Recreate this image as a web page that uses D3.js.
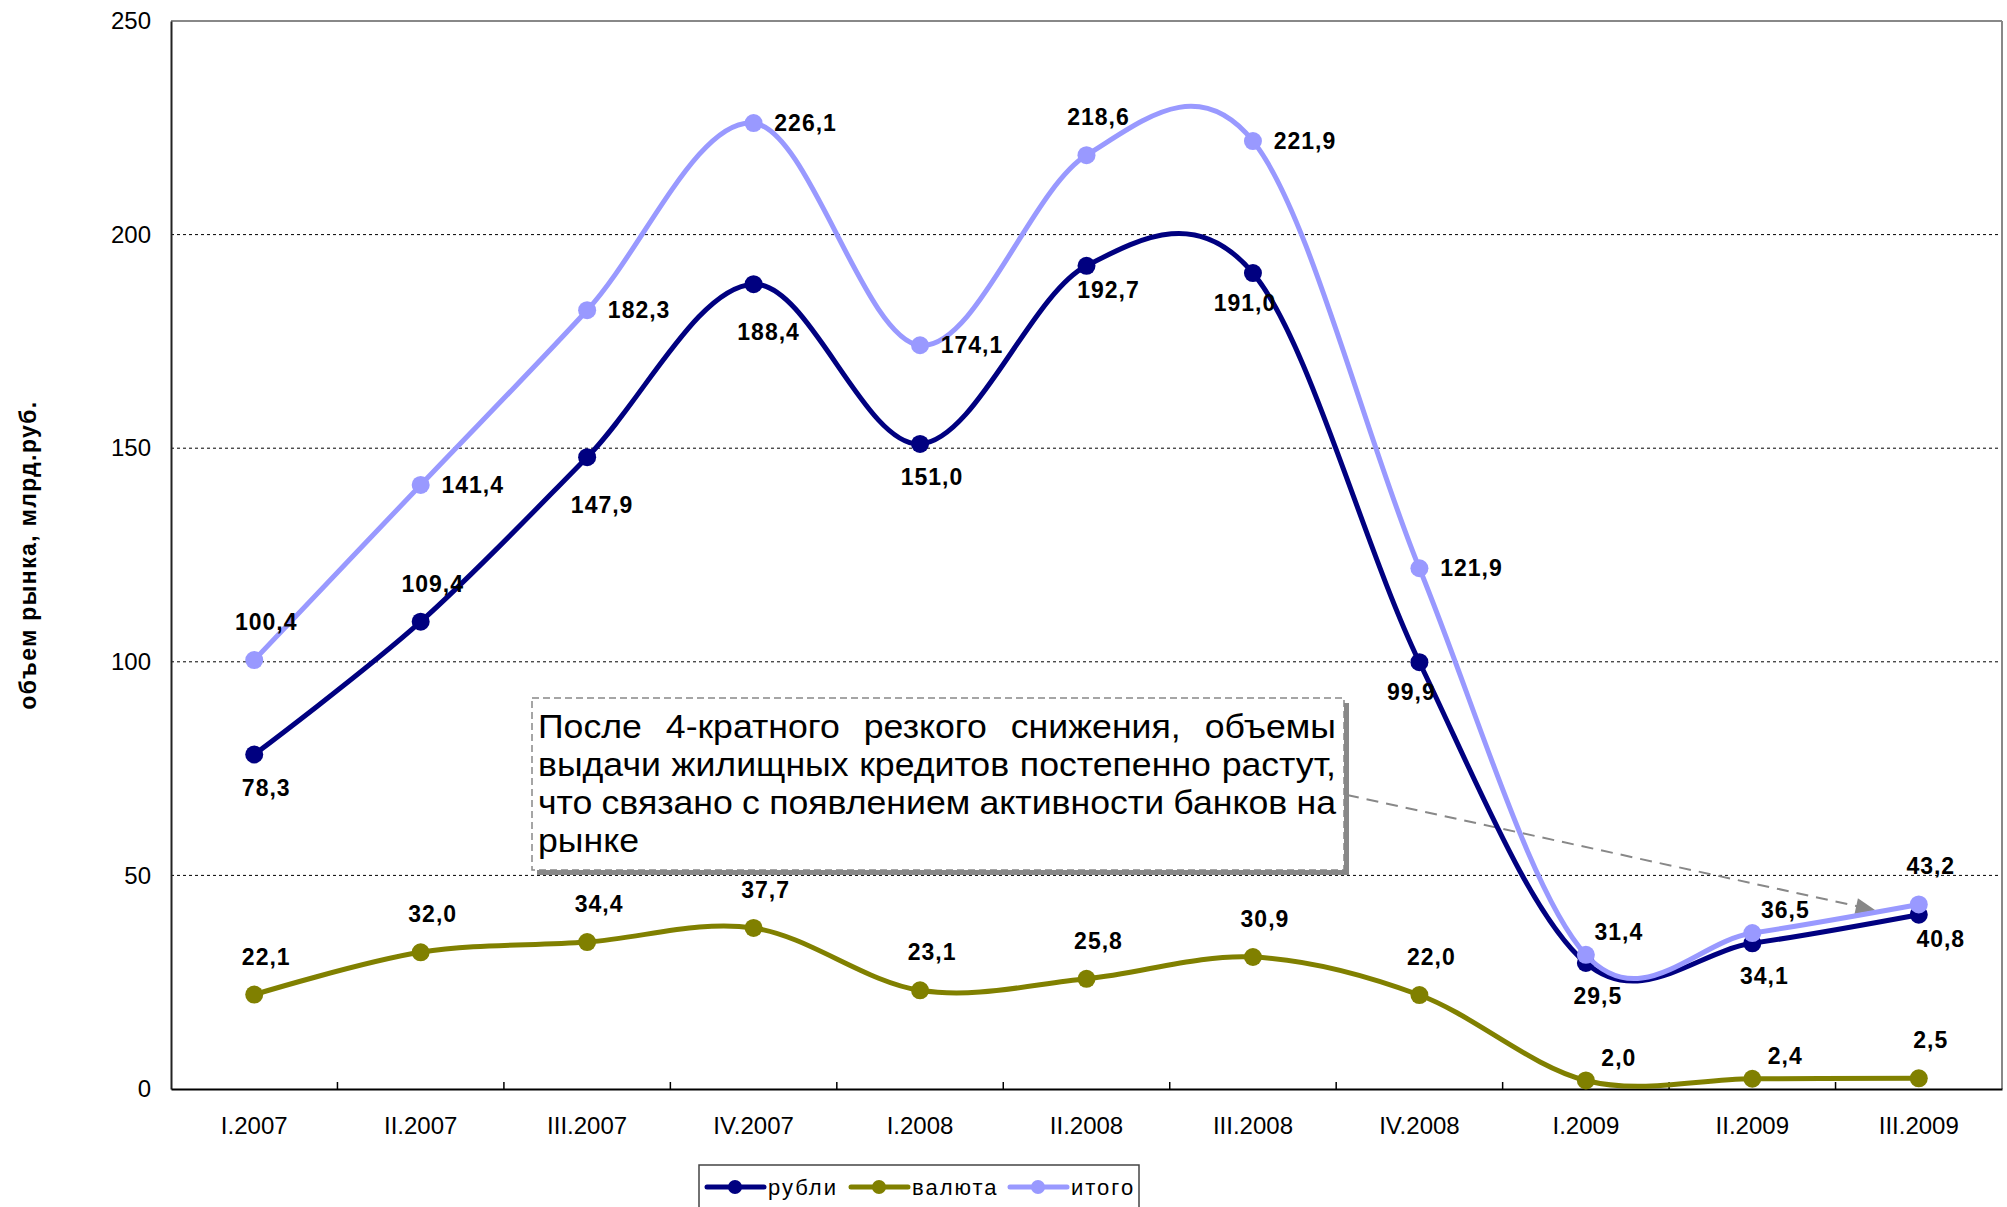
<!DOCTYPE html>
<html>
<head>
<meta charset="utf-8">
<script src="https://cdn.jsdelivr.net/npm/d3@7"></script>
<style>
body { margin: 0; background: #fff; }
text { font-family: "Liberation Sans", Arial, sans-serif; }
</style>
</head>
<body>
<div id="graph"></div>
<script>
// quarters
var categories = ['I.2007', 'II.2007', 'III.2007', 'IV.2007', 'I.2008', 'II.2008', 'III.2008', 'IV.2008', 'I.2009', 'II.2009', 'III.2009'];

// volumes, bln rub
var rubles   = [78.3, 109.4, 147.9, 188.4, 151.0, 192.7, 191.0, 99.9, 29.5, 34.1, 40.8];
var currency = [22.1, 32.0, 34.4, 37.7, 23.1, 25.8, 30.9, 22.0, 2.0, 2.4, 2.5];
var total    = [100.4, 141.4, 182.3, 226.1, 174.1, 218.6, 221.9, 121.9, 31.4, 36.5, 43.2];

// where each data label sits relative to its point (like excel label position)
var rublesLabelPos   = ['below', 'above', 'belowFar', 'belowFar', 'below', 'belowRight', 'belowLeft', 'belowLeft', 'below', 'below', 'belowRight'];
var currencyLabelPos = ['above', 'above', 'above', 'above', 'above', 'above', 'above', 'above', 'aboveRight', 'aboveRight', 'above'];
var totalLabelPos    = ['above', 'right', 'right', 'right', 'right', 'above', 'right', 'right', 'aboveRight', 'aboveRight', 'above'];

var yTicks = [0, 50, 100, 150, 200, 250];

var seriesNames = ['рубли', 'валюта', 'итого'];

var noteLines = [
  'После 4-кратного резкого снижения, объемы',
  'выдачи жилищных кредитов постепенно растут,',
  'что связано с появлением активности банков на',
  'рынке'
];

var svgWidth = 2007, svgHeight = 1207;
var margin = {top: 21, right: 5, bottom: 118, left: 171};
var width = svgWidth - margin.left - margin.right,
    height = svgHeight - margin.top - margin.bottom;

var svg = d3.select('#graph').append('svg')
  .attr('width', svgWidth).attr('height', svgHeight);

var g = svg.append('g').attr('transform', 'translate(' + margin.left + ',' + margin.top + ')');

var x = d3.scaleBand().domain(categories).range([0, width]);
var y = d3.scaleLinear().domain([0, 250]).range([height, 0]);
var cx = function(i) { return x(categories[i]) + x.bandwidth() / 2; };

var colors = {rubles: '#000080', currency: '#808000', total: '#9999ff'};

// grid
g.selectAll('.grid').data(yTicks.filter(function(d) { return d > 0 && d < 250; }))
  .enter().append('line')
  .attr('x1', 0).attr('x2', width)
  .attr('y1', function(d) { return y(d); }).attr('y2', function(d) { return y(d); })
  .attr('stroke', '#000').attr('stroke-width', 1).attr('stroke-dasharray', '3,3');

// frame top / right
g.append('line').attr('x1', 0).attr('x2', width).attr('y1', y(250)).attr('y2', y(250))
  .attr('stroke', '#888').attr('stroke-width', 2);
g.append('line').attr('x1', width).attr('x2', width).attr('y1', 0).attr('y2', height)
  .attr('stroke', '#888').attr('stroke-width', 2);

// y axis
var yAxis = g.append('g').call(d3.axisLeft(y).tickValues(yTicks).tickSize(0).tickPadding(20));
yAxis.select('.domain').attr('stroke', '#222').attr('stroke-width', 2);
yAxis.selectAll('text').attr('font-size', 24).attr('fill', '#000')
  .style('font-family', '"Liberation Sans", Arial, sans-serif');

// x axis
var xAxis = g.append('g').attr('transform', 'translate(0,' + height + ')')
  .call(d3.axisBottom(x).tickSize(0).tickPadding(28));
xAxis.select('.domain').attr('stroke', '#000').attr('stroke-width', 2);
xAxis.selectAll('text').attr('font-size', 24).attr('fill', '#000')
  .style('font-family', '"Liberation Sans", Arial, sans-serif');
g.selectAll('.xtick').data(categories.slice(1))
  .enter().append('line')
  .attr('x1', function(d) { return x(d); }).attr('x2', function(d) { return x(d); })
  .attr('y1', height).attr('y2', height - 7)
  .attr('stroke', '#000').attr('stroke-width', 1.5);

// y title
svg.append('text')
  .attr('transform', 'translate(36,' + (margin.top + height / 2) + ') rotate(-90)')
  .attr('text-anchor', 'middle')
  .attr('font-size', 23).attr('font-weight', 'bold')
  .attr('letter-spacing', 1.4)
  .text('объем рынка, млрд.руб.');

// annotation box
var note = {x: 361, y: 677, w: 812, h: 172};
g.append('rect').attr('x', note.x + 5).attr('y', note.y + 5).attr('width', note.w).attr('height', note.h)
  .attr('fill', '#888');
g.append('rect').attr('x', note.x).attr('y', note.y).attr('width', note.w).attr('height', note.h)
  .attr('fill', '#fff').attr('stroke', '#888').attr('stroke-width', 1.5).attr('stroke-dasharray', '7,4');

var textW = note.w - 14;
var noteG = g.append('g');
var measured = noteLines.map(function(line, li) {
  var words = line.split(' ');
  var lg = noteG.append('g');
  var widths = words.map(function(w) {
    var t = lg.append('text').attr('font-size', 33).text(w);
    return t.node().getComputedTextLength();
  });
  return {g: lg, words: words, widths: widths};
});
var spaceW = 8.5;
var natural = d3.max(measured.slice(0, 3), function(m) {
  return d3.sum(m.widths) + spaceW * (m.words.length - 1);
});
var k = textW / natural;
measured.forEach(function(m, li) {
  var last = li === measured.length - 1;
  var gap = last ? spaceW : (textW / k - d3.sum(m.widths)) / (m.words.length - 1);
  var pos = 0;
  m.g.attr('transform', 'translate(' + (note.x + 6) + ',' + (note.y + 40 + li * 38) + ') scale(' + k + ',1)');
  m.g.selectAll('text').each(function(d, i) {
    d3.select(this).attr('x', pos);
    pos += m.widths[i] + gap;
  });
});

// arrow from note to last point
var last = categories.length - 1;
var ax0 = note.x + note.w + 3, ay0 = note.y + 97;
var ax1 = cx(last) - 43, ay1 = y(total[last]) + 6;
g.append('line').attr('x1', ax0).attr('y1', ay0).attr('x2', ax1 - 8).attr('y2', ay1 - 2)
  .attr('stroke', '#888').attr('stroke-width', 2).attr('stroke-dasharray', '12,8');
g.append('path')
  .attr('d', function() {
    var ang = Math.atan2(ay1 - ay0, ax1 - ax0), L = 20, W = 8;
    var bx = ax1 - L * Math.cos(ang), by = ay1 - L * Math.sin(ang);
    return 'M' + ax1 + ',' + ay1 +
      'L' + (bx + W * Math.sin(ang)) + ',' + (by - W * Math.cos(ang)) +
      'L' + (bx - W * Math.sin(ang)) + ',' + (by + W * Math.cos(ang)) + 'Z';
  })
  .attr('fill', '#888');

// series
var line = d3.line()
  .x(function(d, i) { return cx(i); })
  .y(function(d) { return y(d); })
  .curve(d3.curveCardinal.tension(0));

var series = [
  {values: rubles, color: colors.rubles, pos: rublesLabelPos},
  {values: currency, color: colors.currency, pos: currencyLabelPos},
  {values: total, color: colors.total, pos: totalLabelPos}
];

var offsets = {
  above: [12, -38], below: [12, 33], belowFar: [15, 48], belowRight: [22, 24], belowLeft: [-8, 30],
  right: [52, 0], aboveRight: [33, -23]
};

series.forEach(function(s) {
  g.append('path').datum(s.values)
    .attr('fill', 'none').attr('stroke', s.color).attr('stroke-width', 5)
    .attr('stroke-linejoin', 'round')
    .attr('d', line);
  g.selectAll(null).data(s.values).enter().append('circle')
    .attr('cx', function(d, i) { return cx(i); })
    .attr('cy', function(d) { return y(d); })
    .attr('r', 9).attr('fill', s.color);
});

series.forEach(function(s) {
  g.selectAll(null).data(s.values).enter().append('text')
    .attr('x', function(d, i) { return cx(i) + offsets[s.pos[i]][0]; })
    .attr('y', function(d, i) { return y(d) + offsets[s.pos[i]][1]; })
    .attr('dy', '0.35em')
    .attr('text-anchor', 'middle')
    .attr('font-size', 23).attr('font-weight', 'bold').attr('letter-spacing', 1)
    .text(function(d) { return d.toFixed(1).replace('.', ','); });
});

// legend
var legend = svg.append('g').attr('transform', 'translate(699,1165)');
legend.append('rect').attr('x', 0).attr('y', 0).attr('width', 440).attr('height', 60)
  .attr('fill', '#fff').attr('stroke', '#444').attr('stroke-width', 1.5);
var legendX = [8, 152, 311];
var legendColors = [colors.rubles, colors.currency, colors.total];
seriesNames.forEach(function(name, i) {
  var lx = legendX[i];
  legend.append('line').attr('x1', lx).attr('x2', lx + 57).attr('y1', 22).attr('y2', 22)
    .attr('stroke', legendColors[i]).attr('stroke-width', 5).attr('stroke-linecap', 'round');
  legend.append('circle').attr('cx', lx + 28).attr('cy', 22).attr('r', 7).attr('fill', legendColors[i]);
  legend.append('text').attr('x', lx + 61).attr('y', 22).attr('dy', '0.35em')
    .attr('font-size', 22).attr('letter-spacing', 2).text(name);
});
</script>
</body>
</html>
